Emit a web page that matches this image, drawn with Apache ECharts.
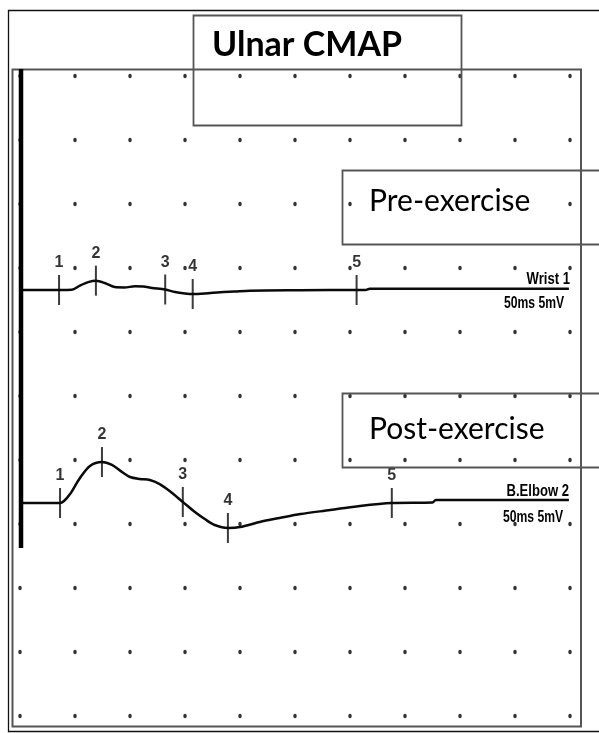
<!DOCTYPE html>
<html>
<head>
<meta charset="utf-8">
<script src="https://cdn.jsdelivr.net/npm/echarts@6/dist/echarts.min.js"></script>
<style>
  html, body { margin: 0; padding: 0; background: #fff; }
  #chart { width: 599px; height: 733px; }
</style>
</head>
<body>
<div id="chart"></div>
<script>
// Sweep grid: 10 divisions of 5 ms across, 10 divisions of 5 mV down
const timeTicks = [0, 5, 10, 15, 20, 25, 30, 35, 40, 45, 50];
const levelTicks = [0, 5, 10, 15, 20, 25, 30, 35, 40, 45, 50];

// Wrist 1 (pre-exercise) response: time in ms, amplitude in mV
const preTime = [0, 3.55, 4.7, 5.45, 6.2, 6.9, 7.7, 8.6, 9.5, 10.45, 11.2, 12.0, 13.2, 14.1, 15.0, 15.7, 16.8, 18.2, 19.5, 20.9, 25.5, 30.6, 31.4, 31.8, 49.9];
const preAmp  = [0, 0, 0.02, 0.35, 0.62, 0.73, 0.55, 0.23, 0.2, 0.29, 0.27, 0.16, 0.04, -0.16, -0.27, -0.31, -0.27, -0.18, -0.12, -0.05, -0.02, 0, 0, 0.1, 0.1];
const preMarkNames = ['1', '2', '3', '4', '5'];
const preMarkTime  = [3.55, 6.9, 13.2, 15.7, 30.6];
const preMarkAmp   = [0, 0.73, 0.04, -0.31, 0];

// B.Elbow 2 (post-exercise) response
const postTime = [0, 3.64, 4.0, 4.55, 5.45, 6.36, 7.45, 8.36, 9.27, 10.0, 10.9, 11.8, 12.7, 13.6, 14.8, 15.9, 16.8, 17.7, 18.9, 20.0, 21.8, 23.6, 25.5, 28.2, 30.9, 33.8, 37.5, 37.8, 49.9];
const postAmp  = [0, 0, 0.16, 0.7, 1.95, 2.89, 3.2, 2.97, 2.42, 2.03, 1.88, 1.8, 1.48, 0.94, 0.08, -0.7, -1.25, -1.72, -1.95, -1.88, -1.48, -1.17, -0.86, -0.55, -0.23, 0, 0.04, 0.23, 0.23];
const postMarkNames = ['1', '2', '3', '4', '5'];
const postMarkTime  = [3.64, 7.45, 14.8, 18.9, 33.8];
const postMarkAmp   = [0, 3.2, 0.08, -1.95, 0];

const pairs = (xs, ys) => xs.map((x, i) => [x, ys[i]]);
const marks = (names, xs, ys) => names.map((n, i) => ({ name: n, value: [xs[i], ys[i]] }));

const dots = [];
timeTicks.forEach(t => levelTicks.forEach(l => dots.push([t, l])));

const sans = "'Liberation Sans', Arial, sans-serif";
const traceStyle = { color: '#0a0a0a', width: 2.5 };
const markerSeries = (data, yAxisIndex) => ({
  type: 'scatter',
  xAxisIndex: 0,
  yAxisIndex: yAxisIndex,
  data: data,
  symbol: 'rect',
  symbolSize: [2, 30],
  itemStyle: { color: '#0a0a0a' },
  z: 4,
  label: {
    show: true,
    position: 'top',
    distance: 4,
    formatter: p => p.name,
    fontFamily: sans,
    fontWeight: 'bold',
    fontSize: 16,
    color: '#000'
  }
});

// condensed recorder caption, squeezed horizontally around its anchor
const caption = (text, x, y, size, squeeze, align) => ({
  type: 'text', z: 101, silent: true, x: x, y: y, scaleX: squeeze, scaleY: 1, originX: 0, originY: 0,
  style: { text: text, x: 0, y: 0, font: 'bold ' + size + 'px ' + sans, fill: '#000', align: align, verticalAlign: 'middle' }
});

const chart = echarts.init(document.getElementById('chart'), null, { renderer: 'canvas' });
chart.setOption({
  animation: false,
  backgroundColor: '#fff',
  grid: { left: 20, right: 29, top: 76, bottom: 17 },
  xAxis: { type: 'value', min: 0, max: 50, show: false },
  yAxis: [
    { type: 'value', min: 0, max: 50, show: false },
    { type: 'value', min: -33.28, max: 16.72, show: false },
    { type: 'value', min: -16.64, max: 33.36, show: false }
  ],
  series: [
    {
      type: 'scatter', xAxisIndex: 0, yAxisIndex: 0, data: dots,
      symbol: 'circle', symbolSize: [3.5, 4.5], itemStyle: { color: '#000' }, z: 1, silent: true
    },
    {
      type: 'line', xAxisIndex: 0, yAxisIndex: 1, data: pairs(preTime, preAmp),
      showSymbol: false, smooth: 0.3, lineStyle: traceStyle, z: 3
    },
    {
      type: 'line', xAxisIndex: 0, yAxisIndex: 2, data: pairs(postTime, postAmp),
      showSymbol: false, smooth: 0.3, lineStyle: traceStyle, z: 3
    },
    markerSeries(marks(preMarkNames, preMarkTime, preMarkAmp), 1),
    markerSeries(marks(postMarkNames, postMarkTime, postMarkAmp), 2)
  ],
  graphic: [
    { type: 'rect', z: 100, silent: true, shape: { x: 8.5, y: 10.5, width: 600, height: 721 }, style: { fill: null, stroke: '#111', lineWidth: 1.3 } },
    { type: 'rect', z: 100, silent: true, shape: { x: 12.5, y: 69.5, width: 568.5, height: 657 }, style: { fill: null, stroke: '#555', lineWidth: 2 } },
    { type: 'line', z: 100, silent: true, shape: { x1: 21, y1: 69, x2: 21, y2: 548 }, style: { stroke: '#000', lineWidth: 4.5 } },
    { type: 'rect', z: 100, silent: true, shape: { x: 193.5, y: 15.5, width: 268, height: 110 }, style: { fill: null, stroke: '#555', lineWidth: 1.8 } },
    { type: 'text', z: 101, silent: true, style: { text: 'Ulnar CMAP', x: 212, y: 45, font: 'bold 34px Lato', fill: '#000', align: 'left', verticalAlign: 'middle' } },
    { type: 'rect', z: 100, silent: true, shape: { x: 342.5, y: 170.5, width: 280, height: 74 }, style: { fill: null, stroke: '#555', lineWidth: 1.8 } },
    { type: 'text', z: 101, silent: true, style: { text: 'Pre-exercise', x: 369, y: 201, font: '30px Lato', fill: '#000', align: 'left', verticalAlign: 'middle', backgroundColor: '#fff' } },
    { type: 'rect', z: 100, silent: true, shape: { x: 342.5, y: 393.5, width: 280, height: 74 }, style: { fill: null, stroke: '#555', lineWidth: 1.8 } },
    { type: 'text', z: 101, silent: true, style: { text: 'Post-exercise', x: 369, y: 429, font: '30px Lato', fill: '#000', align: 'left', verticalAlign: 'middle' } },
    caption('Wrist 1', 570, 279, 17, 0.77, 'right'),
    caption('50ms 5mV', 504, 304, 16, 0.76, 'left'),
    caption('B.Elbow 2', 569, 491, 17, 0.77, 'right'),
    caption('50ms 5mV', 503, 518, 16, 0.76, 'left')
  ]
});
</script>
</body>
</html>
